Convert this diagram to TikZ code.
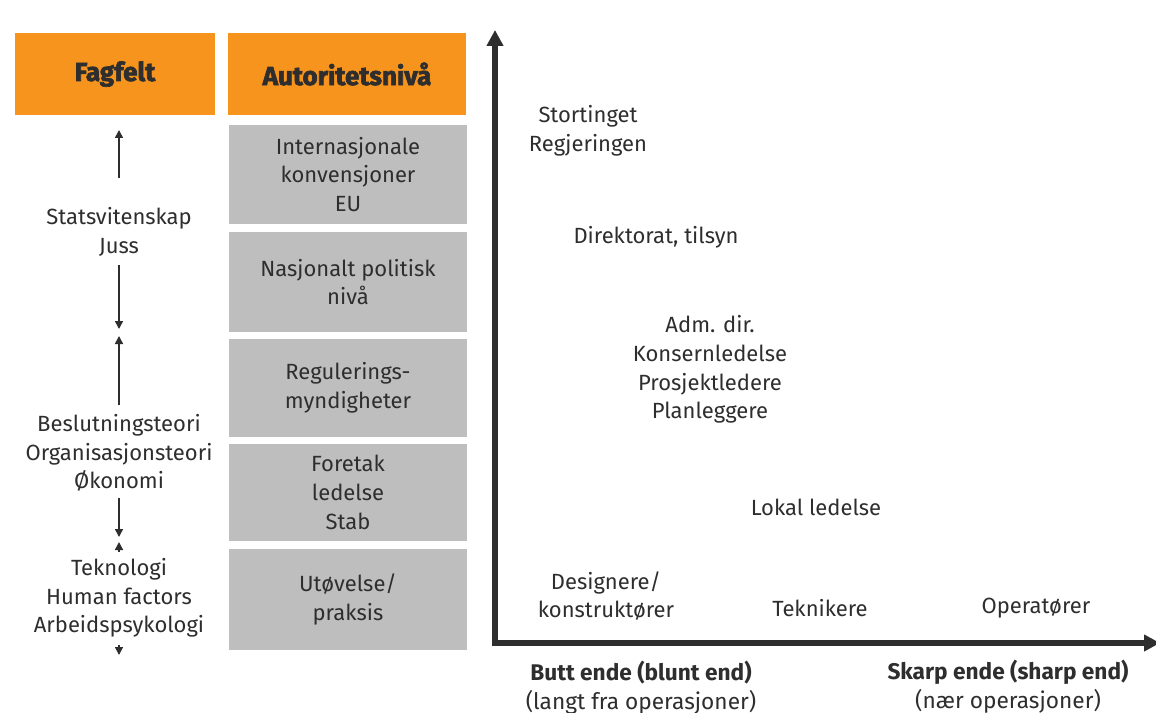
\documentclass[tikz,border=0pt]{standalone}
\usepackage{fontspec}
\setmainfont{Fira Sans}[BoldFont={Fira Sans Bold}]
\newfontfamily\heavyfont{Fira Sans}[BoldFont={Fira Sans Bold}, BoldFeatures={FakeBold=2.5}]
\usetikzlibrary{arrows.meta}
\definecolor{headorange}{HTML}{F7941D}
\definecolor{levelgrey}{HTML}{BEBEBE}
\definecolor{ink}{HTML}{2E2E2E}
\tikzset{
  headbox/.style={fill=headorange, draw=none, minimum height=82*0.75pt, inner sep=0pt,
    font=\heavyfont\bfseries\fontsize{19.5}{21}\selectfont, text=ink},
  levelbox/.style={fill=levelgrey, draw=none, minimum width=238*0.75pt, inner sep=0pt,
    align=center, font=\fontsize{16.5}{21.5}\selectfont, text=ink},
  lbl/.style={align=center, font=\fontsize{16.5}{21.5}\selectfont, text=ink, inner sep=0pt},
  axislbl/.style={align=center, font=\fontsize{17}{21.5}\selectfont, text=ink, inner sep=0pt},
  thinarrow/.style={draw=ink, line width=1.2pt, -{Triangle[length=6pt,width=6pt]}},
  axis/.style={draw=ink, line width=4pt, -{Triangle[length=12pt,width=12pt]}}
}
\begin{document}
\begin{tikzpicture}[x=0.75pt,y=-0.75pt]
\useasboundingbox[fill=white] (0,0) rectangle (1156,713);
% header boxes
\node[headbox, minimum width=200*0.75pt] (fag) at (115,74) {Fagfelt};
\node[headbox, minimum width=238*0.75pt] (aut) at (347,74) {Autoritetsnivå};
% authority levels
\node[levelbox, minimum height=99*0.75pt] (l1) at (348,174.5) {Internasjonale\\konvensjoner\\EU};
\node[levelbox, minimum height=100*0.75pt] (l2) at (348,282) {Nasjonalt politisk\\nivå};
\node[levelbox, minimum height=98*0.75pt] (l3) at (348,388) {Regulerings-\\myndigheter};
\node[levelbox, minimum height=97*0.75pt] (l4) at (348,492.5) {Foretak\\ledelse\\Stab};
\node[levelbox, minimum height=101*0.75pt] (l5) at (348,599.5) {Utøvelse/\\praksis};
% fields of knowledge
\node[lbl] (f1) at (119,232) {Statsvitenskap\\Juss};
\node[lbl] (f2) at (119,453) {Beslutningsteori\\Organisasjonsteori\\Økonomi};
\node[lbl] (f3) at (119,598) {Teknologi\\Human factors\\Arbeidspsykologi};
\coordinate (f1top) at (119,130);
\coordinate (f1bot) at (119,329);
\coordinate (f2top) at (119,336);
\coordinate (f2bot) at (119,537);
\coordinate (f3top) at (119,542);
\coordinate (f3bot) at (119,655);
\draw[thinarrow] (119,178) -- (f1top);
\draw[thinarrow] (119,265) -- (f1bot);
\draw[thinarrow] (119,405) -- (f2top);
\draw[thinarrow] (119,498) -- (f2bot);
\draw[thinarrow] (119,552) -- (f3top);
\draw[thinarrow] (119,645) -- (f3bot);
% axes
\coordinate (origin) at (495,643);
\coordinate (ytip) at (495,30);
\coordinate (xtip) at (1160,643);
\draw[axis] (origin) -- (ytip);
\draw[axis] ([xshift=-2]origin) -- (xtip);
% actors
\node[lbl] (stort) at (588,130.5) {Stortinget\\Regjeringen};
\node[lbl] (dir) at (656,237) {Direktorat, tilsyn};
\node[lbl] (adm) at (710,369.5) {Adm. dir.\\Konsernledelse\\Prosjektledere\\Planleggere};
\node[lbl] (lok) at (816,507) {Lokal ledelse};
\node[lbl] (des) at (606,596) {Designere/\\konstruktører};
\node[lbl] (tek) at (820,608) {Teknikere};
\node[lbl] (ope) at (1036,608) {Operatører};
% axis ends
\node[axislbl] (blunt) at (641,687.5) {\textbf{Butt ende (blunt end)}\\(langt fra operasjoner)};
\node[axislbl] (sharp) at (1008,687) {\textbf{Skarp ende (sharp end)}\\(nær operasjoner)};
\end{tikzpicture}
\end{document}
